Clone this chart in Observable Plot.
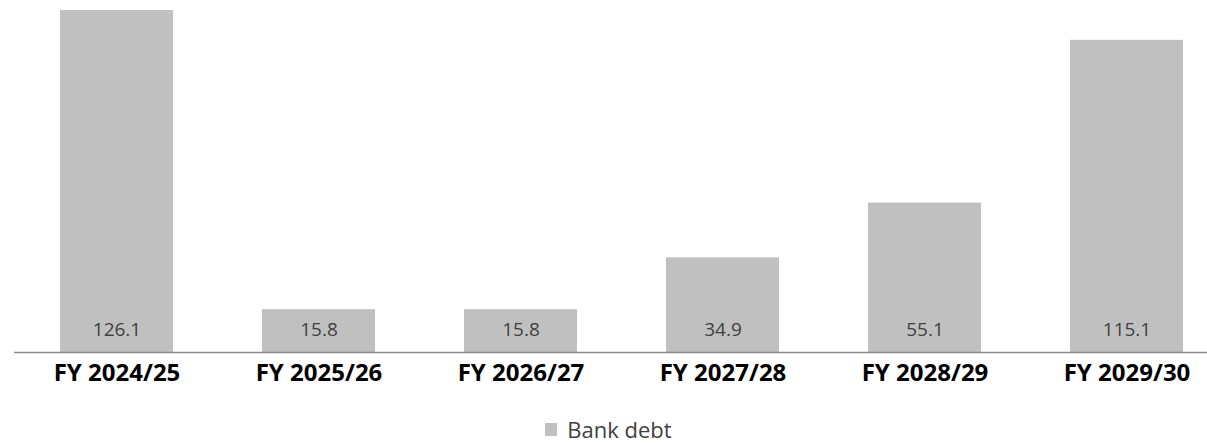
<!DOCTYPE html>
<html>
<head>
<meta charset="utf-8">
<script src="https://cdn.jsdelivr.net/npm/d3@7"></script>
<script src="https://cdn.jsdelivr.net/npm/@observablehq/plot@0.6"></script>
<style>
  html, body { margin: 0; padding: 0; background: #fff; }
  #chart { width: 1207px; }
  .legend {
    display: flex; justify-content: center; align-items: center;
    font-family: "Open Sans", sans-serif; font-size: 22px; line-height: 22px;
    height: 22px; color: #404040;
    margin-top: 18px; margin-left: 10px;
  }
  .legend .swatch { width: 12px; height: 13px; background: #c0c0c0; margin-right: 10px; }
</style>
</head>
<body>
<div id="chart"></div>
<script>
// Bank debt maturities by fiscal year
const years = ["FY 2024/25", "FY 2025/26", "FY 2026/27", "FY 2027/28", "FY 2028/29", "FY 2029/30"];
const bankDebt = [126.1, 15.8, 15.8, 34.9, 55.1, 115.1];
const seriesName = "Bank debt";

const rows = years.map((year, i) => ({year, value: bankDebt[i]}));

const chart = Plot.plot({
  width: 1207,
  height: 400,
  marginTop: 10,
  marginBottom: 48,
  marginLeft: 14,
  marginRight: 0,
  style: {fontFamily: "'Open Sans', sans-serif", background: "#fff", overflow: "visible"},
  x: {domain: years, range: [14.35, 1228.15], paddingInner: 0.4414, paddingOuter: 0.2207, label: null},
  y: {domain: [0, 126.1], axis: null},
  marks: [
    Plot.barY(rows, {x: "year", y: "value", fill: "#c0c0c0"}),
    Plot.ruleY([0], {stroke: "#8a8a8a", strokeWidth: 1.3}),
    Plot.text(rows, {
      x: "year", y: 0, dy: -23,
      text: d => d.value.toFixed(1),
      fill: "#404040", fontSize: 19, fontWeight: 400,
      textAnchor: "middle", lineAnchor: "middle"
    }),
    Plot.axisX({
      tickSize: 0, tickPadding: 11, fontSize: 24, fontWeight: "bold",
      fill: "#000", label: null
    })
  ]
});
document.getElementById("chart").append(chart);

const legend = document.createElement("div");
legend.className = "legend";
legend.innerHTML = `<span class="swatch"></span><span>${seriesName}</span>`;
document.getElementById("chart").append(legend);
</script>
</body>
</html>
